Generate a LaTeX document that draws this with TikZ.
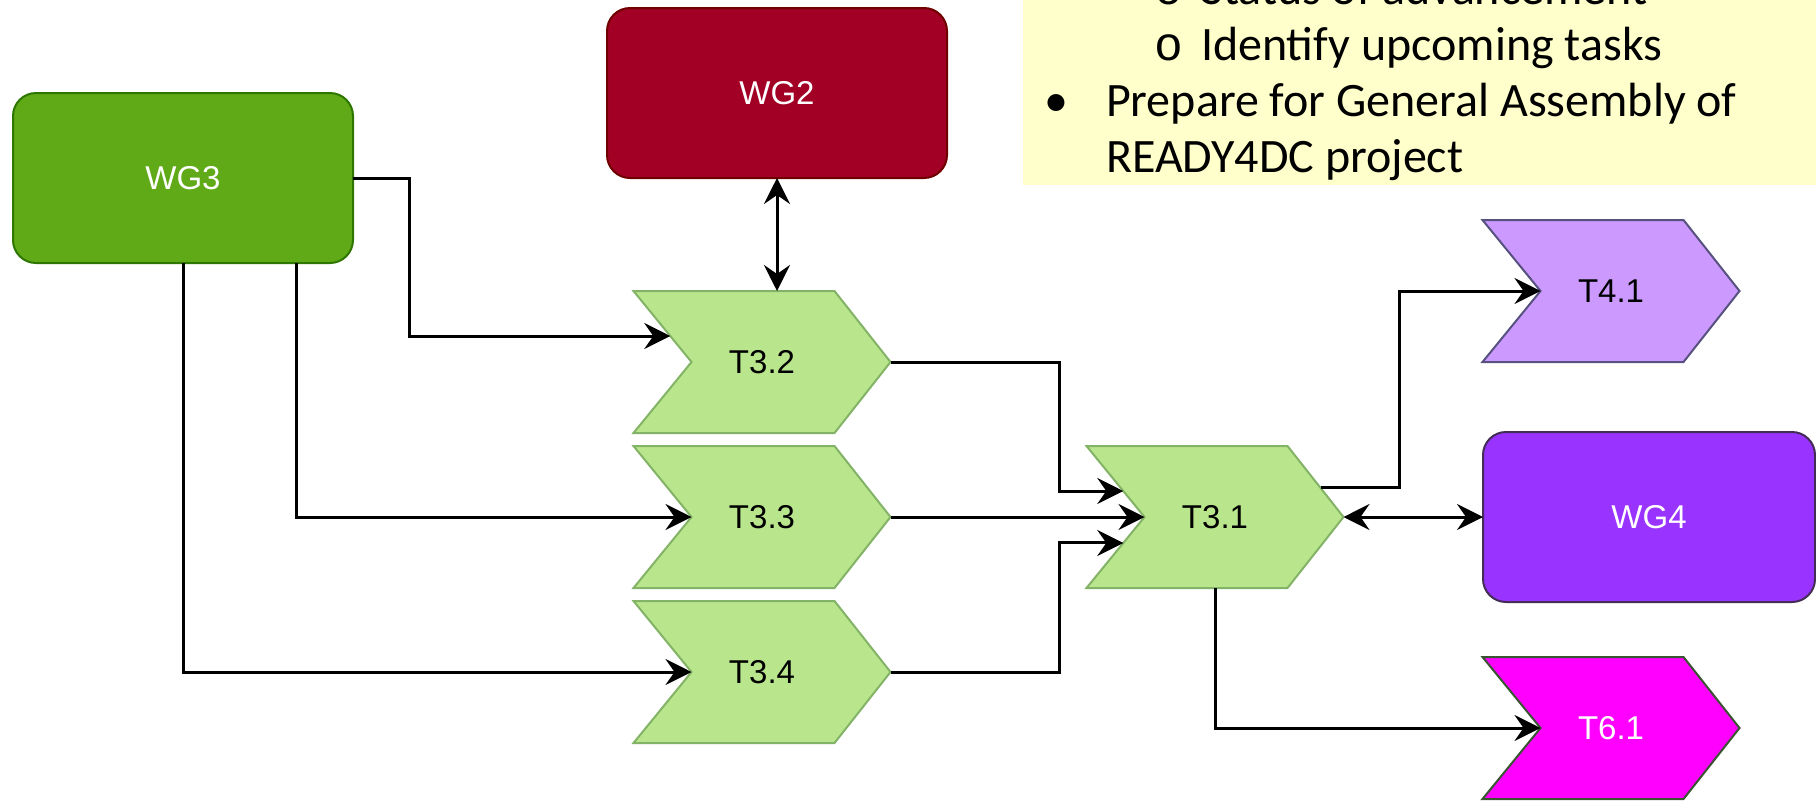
\documentclass[tikz,border=0pt]{standalone}
\usepackage{fontspec}
\setmainfont{Liberation Sans}
\newfontfamily\notefont{Carlito}
\newfontfamily\markfont{Liberation Mono}
\usetikzlibrary{arrows.meta,calc}
\pgfdeclarelayer{background}
\pgfsetlayers{background,main}

\definecolor{wgthreefill}{HTML}{60A917}
\definecolor{wgthreeline}{HTML}{2D7600}
\definecolor{wgtwofill}{HTML}{A20025}
\definecolor{wgtwoline}{HTML}{6F0000}
\definecolor{wgfourfill}{HTML}{9933FF}
\definecolor{wgfourline}{HTML}{432D57}
\definecolor{taskfill}{HTML}{B9E68C}
\definecolor{taskline}{HTML}{82B366}
\definecolor{tfourfill}{HTML}{CC99FF}
\definecolor{tfourline}{HTML}{56517E}
\definecolor{tsixfill}{HTML}{FF00FF}
\definecolor{tsixline}{HTML}{3A5431}
\definecolor{notebg}{HTML}{FFFFCC}

\begin{document}
\begin{tikzpicture}[x=1pt,y=-1pt,
  wgbox/.style={rectangle, rounded corners=23pt, line width=2pt,
    minimum width=340pt, minimum height=170pt, inner sep=0pt, outer sep=0pt,
    text=white, font=\fontsize{33}{38}\selectfont},
  chevbox/.style={rectangle, draw=none, minimum width=257pt, minimum height=142pt,
    inner sep=0pt, outer sep=0pt, font=\fontsize{33}{38}\selectfont},
  chevline/.style={line width=2pt, line join=miter},
  conn/.style={line width=3pt, -{Stealth[length=26pt,width=26pt,inset=9pt]}},
  biconn/.style={line width=3pt,
    {Stealth[length=26pt,width=26pt,inset=9pt]}-{Stealth[length=26pt,width=26pt,inset=9pt]}},
  notetext/.style={anchor=base west, inner sep=0pt, outer sep=0pt,
    font=\notefont\fontsize{48}{56}\selectfont}
]
\useasboundingbox (0,0) rectangle (1816,801);

% note panel in the upper right corner
\node[rectangle, fill=notebg, minimum width=793pt, minimum height=185pt,
      inner sep=0pt, outer sep=0pt, anchor=north west] (notes) at (1023,0) {};
\node[notetext] (submarkA) at (1154,4) {\markfont o};
\node[notetext] (subA) at (1201,4) {Status of advancement};
\node[notetext] (submarkB) at (1154,60) {\markfont o};
\node[notetext] (subB) at (1201,60) {Identify upcoming tasks};
\node[notetext] (markC) at (1044,116) {\textbullet};
\node[notetext] (lineC) at (1106,116) {Prepare for General Assembly of};
\node[notetext] (lineD) at (1106,172) {READY4DC project};

% working groups
\node[wgbox, fill=wgthreefill, draw=wgthreeline] (wg3) at (183,178) {WG3};
\node[wgbox, fill=wgtwofill, draw=wgtwoline] (wg2) at (777,93) {WG2};
\node[wgbox, fill=wgfourfill, draw=wgfourline, minimum width=332pt] (wg4) at (1649,517) {WG4};

% tasks
\node[chevbox] (t32) at (762,362) {T3.2};
\node[chevbox] (t33) at (762,517) {T3.3};
\node[chevbox] (t34) at (762,672) {T3.4};
\node[chevbox] (t31) at (1215,517) {T3.1};
\node[chevbox] (t41) at (1611,291) {T4.1};
\node[chevbox, text=white] (t61) at (1611,728) {T6.1};

\begin{pgfonlayer}{background}
\foreach \n/\f/\d in {t32/taskfill/taskline, t33/taskfill/taskline,
    t34/taskfill/taskline, t31/taskfill/taskline,
    t41/tfourfill/tfourline, t61/tsixfill/tsixline}
  \filldraw[chevline, fill=\f, draw=\d]
    (\n.north west) -- ([xshift=-56pt]\n.north east) -- (\n.east)
    -- ([xshift=-56pt]\n.south east) -- (\n.south west)
    -- ([xshift=58pt]\n.west) -- cycle;
\end{pgfonlayer}

% entry and exit points on the slanted edges
\coordinate (t32in) at ($(t32.north west)!0.634!([xshift=58pt]t32.west)$);
\coordinate (t31inA) at ($(t31.north west)!0.634!([xshift=58pt]t31.west)$);
\coordinate (t31inB) at ($(t31.south west)!0.634!([xshift=58pt]t31.west)$);
\coordinate (t31out) at ($([xshift=-56pt]t31.north east)!0.59!(t31.east)$);

% connectors
\draw[conn] (wg3.east) -- ++(56,0) |- (t32in);
\draw[conn] ([xshift=113pt]wg3.south) |- ([xshift=58pt]t33.west);
\draw[conn] (wg3.south) |- ([xshift=58pt]t34.west);
\draw[biconn] (wg2.south) -- (wg2.south |- t32.north);
\draw[conn] (t32.east) -- ++(169,0) |- (t31inA);
\draw[conn] (t33.east) -- ([xshift=58pt]t31.west);
\draw[conn] (t34.east) -- ++(169,0) |- (t31inB);
\draw[conn] (t31out) -- ++(79,0) |- ([xshift=58pt]t41.west);
\draw[biconn] (t31.east) -- (wg4.west);
\draw[conn] (t31.south) |- ([xshift=58pt]t61.west);
\end{tikzpicture}
\end{document}
